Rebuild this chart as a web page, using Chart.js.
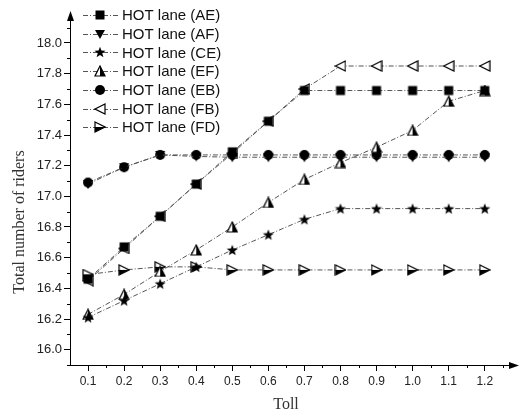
<!DOCTYPE html>
<html>
<head>
<meta charset="utf-8">
<script src="https://cdn.jsdelivr.net/npm/chart.js@4/dist/chart.umd.min.js"></script>
<style>
  body { margin: 0; background: #fff; }
</style>
</head>
<body>
<canvas id="grafico" width="520" height="413"></canvas>
<script>
// valores
const tolls = [0.1, 0.2, 0.3, 0.4, 0.5, 0.6, 0.7, 0.8, 0.9, 1.0, 1.1, 1.2];
const laneAE = [16.46, 16.67, 16.87, 17.08, 17.29, 17.49, 17.69, 17.69, 17.69, 17.69, 17.69, 17.69];
const laneAF = [17.08, 17.19, 17.27, 17.26, 17.255, 17.255, 17.255, 17.255, 17.255, 17.255, 17.255, 17.255];
const laneCE = [16.21, 16.32, 16.43, 16.54, 16.65, 16.75, 16.85, 16.92, 16.92, 16.92, 16.92, 16.92];
const laneEF = [16.23, 16.36, 16.51, 16.65, 16.80, 16.96, 17.11, 17.22, 17.32, 17.43, 17.62, 17.69];
const laneEB = [17.09, 17.19, 17.27, 17.27, 17.27, 17.27, 17.27, 17.27, 17.27, 17.27, 17.27, 17.27];
const laneFB = [16.45, 16.66, 16.87, 17.08, 17.28, 17.49, 17.70, 17.85, 17.85, 17.85, 17.85, 17.85];
const laneFD = [16.49, 16.52, 16.54, 16.54, 16.52, 16.52, 16.52, 16.52, 16.52, 16.52, 16.52, 16.52];
const labels = ['HOT lane (AE)', 'HOT lane (AF)', 'HOT lane (CE)', 'HOT lane (EF)', 'HOT lane (EB)', 'HOT lane (FB)', 'HOT lane (FD)'];
const yTicks = [16.0, 16.2, 16.4, 16.6, 16.8, 17.0, 17.2, 17.4, 17.6, 17.8, 18.0];

// marcadores desenhados num canvas pequeno
function marcador(tipo) {
    const c = document.createElement('canvas');
    c.width = 12; c.height = 12;
    const g = c.getContext('2d');
    g.fillStyle = '#000'; g.strokeStyle = '#000'; g.lineWidth = 1.2;
    const tri = (pts) => { g.beginPath(); g.moveTo(pts[0][0], pts[0][1]); g.lineTo(pts[1][0], pts[1][1]); g.lineTo(pts[2][0], pts[2][1]); g.closePath(); };
    if (tipo === 'square') { g.fillRect(1.5, 1.5, 9, 9); }
    if (tipo === 'down') { tri([[1, 2], [11, 2], [6, 11]]); g.fill(); }
    if (tipo === 'circle') { g.beginPath(); g.arc(6, 6, 5, 0, Math.PI * 2); g.fill(); }
    if (tipo === 'star') {
        g.beginPath();
        for (let i = 0; i < 10; i++) {
            const r = i % 2 ? 2.4 : 5.8, a = -Math.PI / 2 + i * Math.PI / 5;
            g.lineTo(6 + r * Math.cos(a), 6.5 + r * Math.sin(a));
        }
        g.closePath(); g.fill();
    }
    if (tipo === 'up') {
        g.fillStyle = '#fff'; tri([[6, 1], [11, 11], [1, 11]]); g.fill(); g.stroke();
        g.fillStyle = '#000'; tri([[6, 1], [11, 11], [6, 11]]); g.fill();
    }
    if (tipo === 'left') {
        g.fillStyle = '#fff'; tri([[1, 6], [11, 1], [11, 11]]); g.fill(); g.stroke();
    }
    if (tipo === 'right') {
        g.fillStyle = '#fff'; tri([[1, 1], [11, 6], [1, 11]]); g.fill(); g.stroke();
        g.fillStyle = '#000'; tri([[1, 6], [11, 6], [1, 11]]); g.fill();
    }
    return c;
}

const estilos = ['square', 'down', 'star', 'up', 'circle', 'left', 'right'];
const series = [laneAE, laneAF, laneCE, laneEF, laneEB, laneFB, laneFD];
const tracejado = [5, 2, 1, 2];

const datasets = series.map((s, i) => ({
    label: labels[i],
    data: tolls.map((t, j) => ({ x: t, y: s[j] })),
    borderColor: '#555',
    borderWidth: 1,
    borderDash: tracejado,
    pointStyle: marcador(estilos[i]),
    pointRadius: 5,
    tension: 0
}));

// eixos com setas, ticks menores, titulos e legenda
const extras = {
    id: 'extras',
    afterDraw(chart) {
        const ctx = chart.ctx, a = chart.chartArea;
        const sx = chart.scales.x, sy = chart.scales.y;
        ctx.save();
        ctx.strokeStyle = '#000'; ctx.fillStyle = '#000'; ctx.lineWidth = 1;
        // ticks menores
        ctx.beginPath();
        for (let v = 0.15; v < 1.27; v += 0.1) {
            const px = Math.round(sx.getPixelForValue(v)) + 0.5;
            ctx.moveTo(px, a.bottom); ctx.lineTo(px, a.bottom + 3);
        }
        for (let v = 15.9; v < 18.15; v += 0.2) {
            const py = Math.round(sy.getPixelForValue(v)) + 0.5;
            ctx.moveTo(a.left, py); ctx.lineTo(a.left - 3, py);
        }
        ctx.stroke();
        // setas
        ctx.beginPath();
        ctx.moveTo(a.right + 9, a.bottom + 0.5); ctx.lineTo(a.right - 1, a.bottom - 3); ctx.lineTo(a.right - 1, a.bottom + 4); ctx.closePath(); ctx.fill();
        ctx.beginPath();
        ctx.moveTo(a.left + 0.5, a.top - 9); ctx.lineTo(a.left - 3, a.top + 1); ctx.lineTo(a.left + 4, a.top + 1); ctx.closePath(); ctx.fill();
        // titulos
        ctx.fillStyle = '#333';
        ctx.font = '16px "Liberation Serif"';
        ctx.textAlign = 'center'; ctx.textBaseline = 'middle';
        ctx.fillText('Toll', 286, 405);
        ctx.translate(20, 222); ctx.rotate(-Math.PI / 2);
        ctx.fillText('Total number of riders', 0, 0);
        ctx.setTransform(1, 0, 0, 1, 0, 0);
        // legenda
        ctx.font = '15px "Liberation Sans"';
        ctx.textAlign = 'left';
        chart.data.datasets.forEach((d, i) => {
            const y = 15 + i * 18.7;
            ctx.strokeStyle = '#555'; ctx.setLineDash(tracejado);
            ctx.beginPath(); ctx.moveTo(83, Math.round(y) + 0.5); ctx.lineTo(118, Math.round(y) + 0.5); ctx.stroke();
            ctx.setLineDash([]);
            ctx.drawImage(d.pointStyle, 94, Math.round(y) - 6);
            ctx.fillStyle = '#111';
            ctx.fillText(d.label, 122, y + 1);
        });
        ctx.restore();
    }
};

new Chart(document.getElementById('grafico'), {
    type: 'line',
    data: { datasets },
    options: {
        responsive: false,
        animation: false,
        layout: { padding: { left: 0, top: 20, right: 10, bottom: 0 } },
        plugins: { legend: { display: false }, tooltip: { enabled: false } },
        scales: {
            x: {
                type: 'linear', min: 0.05, max: 1.27,
                afterBuildTicks: s => { s.ticks = tolls.map(v => ({ value: v })); },
                afterFit: s => { s.height = 48; },
                ticks: { autoSkip: false, maxRotation: 0, padding: 3, color: '#222', font: { family: 'Liberation Sans', size: 12 }, callback: v => v.toFixed(1) },
                grid: { drawOnChartArea: false, tickLength: 6, color: '#000' },
                border: { color: '#000', width: 1 }
            },
            y: {
                min: 15.9, max: 18.15,
                afterBuildTicks: s => { s.ticks = yTicks.map(v => ({ value: v })); },
                afterFit: s => { s.width = 70; },
                ticks: { padding: 2, color: '#222', font: { family: 'Liberation Sans', size: 13 }, callback: v => v.toFixed(1) },
                grid: { drawOnChartArea: false, tickLength: 6, color: '#000' },
                border: { color: '#000', width: 1 }
            }
        }
    },
    plugins: [extras]
});
</script>
</body>
</html>
